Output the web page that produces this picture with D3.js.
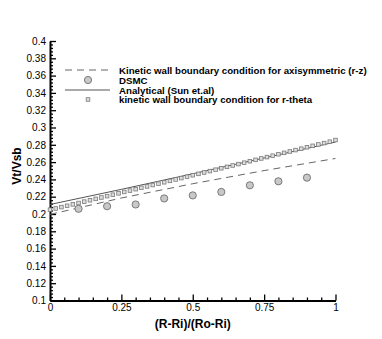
<!DOCTYPE html>
<html>
<head>
<meta charset="utf-8">
<script src="https://cdn.jsdelivr.net/npm/d3@7"></script>
<style>
	body { margin: 0; background: white; }
	svg { font-family: "Liberation Sans", Arial, sans-serif; }
</style>
</head>
<body>
<div id="chart"></div>
<script>

let w = 382;
let h = 339;

// tick values / labels
let xTicks = [0, 0.25, 0.5, 0.75, 1];
let xTickLabels = ["0", "0.25", "0.5", "0.75", "1"];
let yTicks = [0.1, 0.12, 0.14, 0.16, 0.18, 0.2, 0.22, 0.24, 0.26, 0.28, 0.3, 0.32, 0.34, 0.36, 0.38, 0.4];

// DSMC points
let dsmcX = [0.1, 0.2, 0.3, 0.4, 0.5, 0.6, 0.7, 0.8, 0.9];
let dsmcY = [0.206, 0.209, 0.211, 0.218, 0.2215, 0.2255, 0.2332, 0.2378, 0.242];

// analytical (Sun et.al), solid
let anaX = [0, 0.25, 0.5, 0.75, 1];
let anaY = [0.211, 0.2285, 0.2465, 0.2648, 0.2832];

// kinetic wall bc, axisymmetric (r-z), dashed
let rzX = [0, 0.25, 0.5, 0.75, 1];
let rzY = [0.1995, 0.2185, 0.235, 0.2502, 0.2642];

// kinetic wall bc, r-theta, squares
let rtX = [0, 0.02, 0.04, 0.06, 0.08, 0.1, 0.12, 0.14, 0.16, 0.18,
	0.2, 0.22, 0.24, 0.26, 0.28, 0.3, 0.32, 0.34, 0.36, 0.38,
	0.4, 0.42, 0.44, 0.46, 0.48, 0.5, 0.52, 0.54, 0.56, 0.58,
	0.6, 0.62, 0.64, 0.66, 0.68, 0.7, 0.72, 0.74, 0.76, 0.78,
	0.8, 0.82, 0.84, 0.86, 0.88, 0.9, 0.92, 0.94, 0.96, 0.98, 1];
let rtY = [0.2050, 0.2064, 0.2080, 0.2095, 0.2111, 0.2127, 0.2143, 0.2159, 0.2175, 0.2191,
	0.2207, 0.2223, 0.2239, 0.2255, 0.2271, 0.2287, 0.2303, 0.2319, 0.2335, 0.2351,
	0.2367, 0.2383, 0.2399, 0.2415, 0.2431, 0.2448, 0.2464, 0.2480, 0.2496, 0.2512,
	0.2529, 0.2545, 0.2561, 0.2577, 0.2593, 0.2610, 0.2626, 0.2642, 0.2658, 0.2674,
	0.2691, 0.2707, 0.2723, 0.2739, 0.2755, 0.2772, 0.2788, 0.2804, 0.2820, 0.2836, 0.2855];

let legendLabels = [
	"Kinetic wall boundary condition for axisymmetric (r-z)",
	"DSMC",
	"Analytical (Sun et.al)",
	"kinetic wall boundary condition for r-theta"
];

let viz = d3.select("#chart").append("svg")
	.attr("width", w)
	.attr("height", h)
;

let xScale = d3.scaleLinear().domain([0, 1]).range([50, 335.5]);
let yScale = d3.scaleLinear().domain([0.1, 0.4]).range([300.5, 41]);

// minor ticks (4 between majors)
let xMinor = [];
for (let i = 0; i < xTicks.length - 1; i++) {
	let step = (xTicks[i+1] - xTicks[i]) / 5;
	for (let k = 1; k < 5; k++) xMinor.push(xTicks[i] + k*step);
}
let yMinor = [];
for (let i = 0; i < yTicks.length - 1; i++) {
	let step = (yTicks[i+1] - yTicks[i]) / 5;
	for (let k = 1; k < 5; k++) yMinor.push(yTicks[i] + k*step);
}

// axes
viz.append("g").attr("transform", "translate(0," + yScale(0.1) + ")")
	.call(d3.axisBottom(xScale).tickValues(xMinor).tickSize(-3).tickFormat(""))
	.call(g => g.select(".domain").remove())
;
viz.append("g").attr("transform", "translate(" + xScale(0) + ",0)")
	.call(d3.axisLeft(yScale).tickValues(yMinor).tickSize(-3).tickFormat(""))
	.call(g => g.select(".domain").remove())
;
let xAxis = viz.append("g").attr("class", "xaxis")
	.attr("transform", "translate(0," + yScale(0.1) + ")")
	.call(d3.axisBottom(xScale).tickValues(xTicks).tickSize(-6).tickSizeOuter(0).tickPadding(3)
		.tickFormat((d, i) => xTickLabels[i]))
;
let yAxis = viz.append("g").attr("class", "yaxis")
	.attr("transform", "translate(" + xScale(0) + ",0)")
	.call(d3.axisLeft(yScale).tickValues(yTicks).tickSize(-6).tickSizeOuter(0).tickPadding(4)
		.tickFormat(d => String(d)))
;
viz.selectAll(".xaxis text, .yaxis text")
	.attr("font-size", 10)
	.attr("font-family", "Liberation Sans, Arial, sans-serif")
	.attr("fill", "#000");
viz.selectAll("g.tick line").attr("stroke", "#000").attr("stroke-width", 1.3);
viz.selectAll(".domain").attr("stroke", "#000").attr("stroke-width", 2);

// axis titles
viz.append("text")
	.attr("x", (xScale(0) + xScale(1)) / 2)
	.attr("y", 328)
	.attr("text-anchor", "middle")
	.attr("font-size", 12)
	.attr("font-weight", "bold")
	.text("(R-Ri)/(Ro-Ri)");
viz.append("text")
	.attr("transform", "translate(21," + 166 + ") rotate(-90)")
	.attr("text-anchor", "middle")
	.attr("font-size", 12)
	.attr("font-weight", "bold")
	.text("Vt/Vsb");

let graphGroup = viz.append("g").attr("class", "graphGroup");

let line = d3.line()
	.x(d => xScale(d[0]))
	.y(d => yScale(d[1]));

graphGroup.append("path")
	.datum(rzX.map((x, i) => [x, rzY[i]]))
	.attr("d", line)
	.attr("fill", "none")
	.attr("stroke", "#666")
	.attr("stroke-width", 1)
	.attr("stroke-dasharray", "7,5");

graphGroup.append("path")
	.datum(anaX.map((x, i) => [x, anaY[i]]))
	.attr("d", line)
	.attr("fill", "none")
	.attr("stroke", "#555")
	.attr("stroke-width", 1);

graphGroup.selectAll(".sq").data(rtX.map((x, i) => [x, rtY[i]]))
	.enter().append("rect")
	.attr("class", "sq")
	.attr("x", d => xScale(d[0]) - 1.8)
	.attr("y", d => yScale(d[1]) - 1.8)
	.attr("width", 3.6)
	.attr("height", 3.6)
	.attr("fill", "#dcdcdc")
	.attr("stroke", "#7a7a7a")
	.attr("stroke-width", 0.8);

graphGroup.selectAll(".dsmc").data(dsmcX.map((x, i) => [x, dsmcY[i]]))
	.enter().append("circle")
	.attr("class", "dsmc")
	.attr("cx", d => xScale(d[0]))
	.attr("cy", d => yScale(d[1]))
	.attr("r", 3.6)
	.attr("fill", "#c8c8c8")
	.attr("stroke", "#6e6e6e")
	.attr("stroke-width", 0.9);

// legend
let leg = viz.append("g").attr("class", "legend");
let legY = [70, 80, 90, 99.5];
leg.append("line").attr("x1", 65).attr("x2", 110).attr("y1", legY[0]).attr("y2", legY[0])
	.attr("stroke", "#666").attr("stroke-dasharray", "7,5");
leg.append("circle").attr("cx", 88).attr("cy", legY[1]).attr("r", 3.6)
	.attr("fill", "#c8c8c8").attr("stroke", "#6e6e6e").attr("stroke-width", 0.9);
leg.append("line").attr("x1", 65).attr("x2", 110).attr("y1", legY[2]).attr("y2", legY[2])
	.attr("stroke", "#555");
leg.append("rect").attr("x", 88 - 1.8).attr("y", legY[3] - 1.8).attr("width", 3.6).attr("height", 3.6)
	.attr("fill", "#dcdcdc").attr("stroke", "#7a7a7a").attr("stroke-width", 0.8);
leg.selectAll(".lt").data(legendLabels).enter().append("text")
	.attr("class", "lt")
	.attr("x", 119)
	.attr("y", (d, i) => legY[i] + 3.5)
	.attr("font-size", 9.7)
	.attr("font-weight", "bold")
	.text(d => d);

</script>
</body>
</html>
